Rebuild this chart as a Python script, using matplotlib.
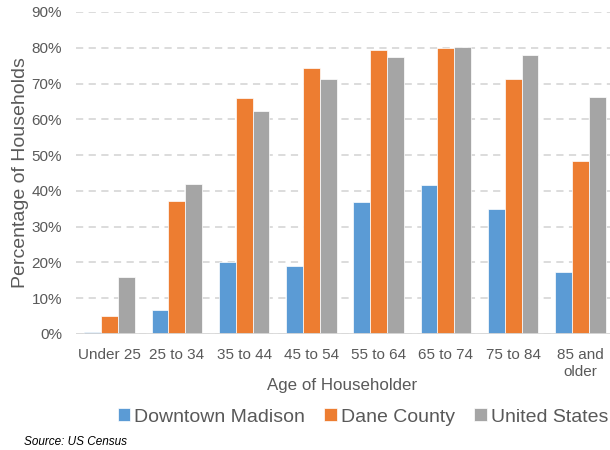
import numpy as np
import matplotlib.pyplot as plt
from matplotlib.ticker import FuncFormatter

# data
age_groups = ['Under 25', '25 to 34', '35 to 44', '45 to 54', '55 to 64',
              '65 to 74', '75 to 84', '85 and\nolder']
downtown = [0.6, 6.6, 20.0, 18.9, 37.0, 41.7, 35.0, 17.2]
dane = [5.0, 37.2, 66.0, 74.4, 79.5, 80.0, 71.3, 48.4]
us = [16.0, 42.0, 62.2, 71.4, 77.3, 80.2, 77.9, 66.1]
series_names = ['Downtown Madison', 'Dane County', 'United States']

colors = ['#5B9BD5', '#ED7D31', '#A5A5A5']
txt = '#595959'

plt.rcParams['font.family'] = ['Liberation Sans', 'DejaVu Sans']

fig = plt.figure(figsize=(6.1, 4.5), dpi=100)
ax = fig.add_axes([0.1246, 0.2578, 0.882, 0.7156])

x = np.arange(len(age_groups))
w = 0.25
for i, (vals, name) in enumerate(zip([downtown, dane, us], series_names)):
    ax.bar(x + (i - 1) * w, vals, w, color=colors[i], label=name,
           edgecolor='white', linewidth=0.5, zorder=3)

ax.set_xlim(-0.5, len(age_groups) - 0.5)
ax.set_ylim(0, 90)
ax.set_yticks(np.arange(0, 91, 10))
ax.yaxis.set_major_formatter(FuncFormatter(lambda v, p: '%d%%' % v))
ax.set_xticks(x)
ax.set_xticklabels(age_groups, linespacing=1.25)

ax.grid(axis='y', color='#D9D9D9', linestyle=(0, (4, 3)), linewidth=1.3, zorder=0)
ax.axhline(0, color='#D9D9D9', linewidth=1.3, zorder=4)
for s in ax.spines.values():
    s.set_visible(False)
ax.tick_params(axis='both', length=0, colors=txt, labelsize=11)
ax.tick_params(axis='y', pad=10)
ax.tick_params(axis='x', pad=10)

ax.set_ylabel('Percentage of Households', fontsize=14, color=txt)
ax.yaxis.set_label_coords(-0.088, 0.5)
ax.set_xlabel('Age of Householder', fontsize=12.2, color=txt)
ax.xaxis.set_label_coords(0.495, -0.136)

fig.legend(loc='center', bbox_to_anchor=(0.595, 0.073), ncol=3, frameon=False,
           fontsize=14, labelcolor=txt, handlelength=0.65, handleheight=0.65,
           handletextpad=0.2, columnspacing=1.0)

fig.text(0.04, 0.011, 'Source: US Census', fontsize=8.5, style='italic',
         color='black', va='baseline')

fig.savefig('out.png', dpi=100)
